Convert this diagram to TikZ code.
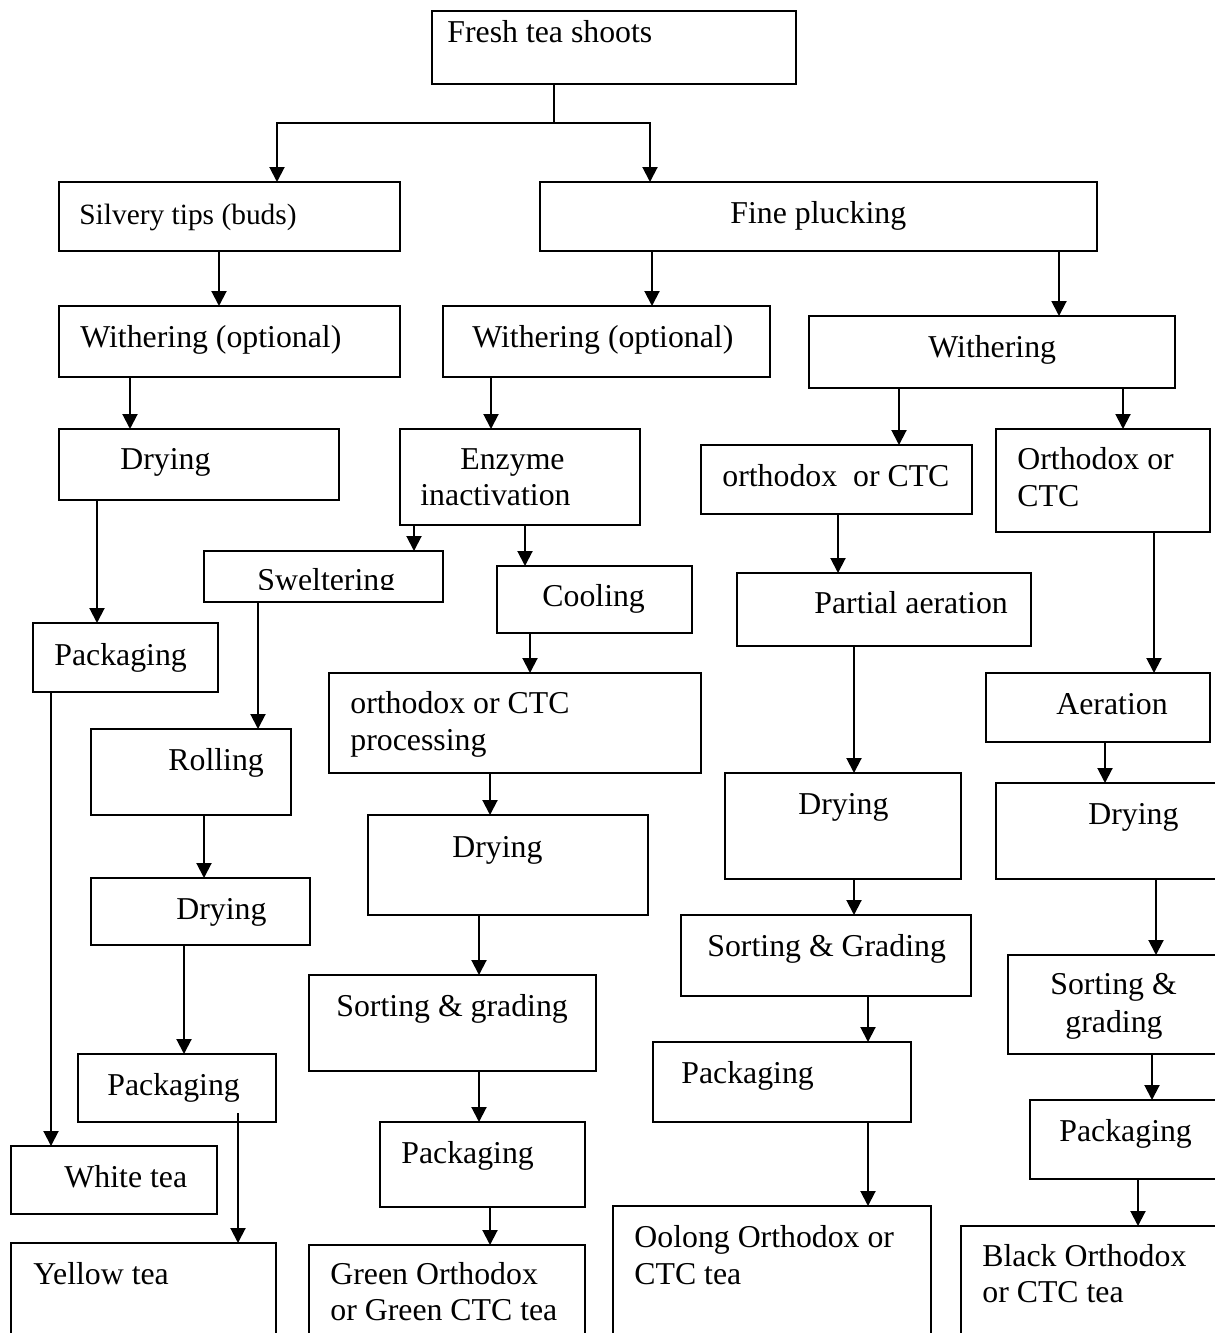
\documentclass[tikz,border=0pt]{standalone}
\usepackage{fontspec}
\setmainfont{Liberation Serif}
\usetikzlibrary{arrows.meta}
\newcommand\tbox[5]{\node[box, minimum width={(#4-#2)*0.5pt}, minimum height={(#5-#3)*0.5pt}, anchor=north west] (#1) at (#2,#3) {};}
\begin{document}
\begin{tikzpicture}[x=0.5pt,y=-0.5pt,
  box/.style={draw, line width=1pt, inner sep=0pt, outer sep=0pt},
  lbl/.style={anchor=base west, inner sep=0pt, font=\fontsize{15.9}{18}\selectfont},
  arr/.style={line width=1pt, -{Triangle[length=7.5pt,width=7.5pt]}},
  ln/.style={line width=1pt}]
\useasboundingbox (0,0) rectangle (1215,1333);
\clip (0,0) rectangle (1215,1333);
% boxes
\tbox{fresh}{432}{11}{796}{84}
\tbox{silv}{59}{182}{400}{251}
\tbox{fine}{540}{182}{1097}{251}
\tbox{withL}{59}{306}{400}{377}
\tbox{withM}{443}{306}{770}{377}
\tbox{withR}{809}{316}{1175}{388}
\tbox{dryL}{59}{429}{339}{500}
\tbox{enz}{400}{429}{640}{525}
\tbox{orc}{701}{445}{972}{514}
\tbox{orr}{996}{429}{1210}{532}
\tbox{swel}{204}{551}{443}{602}
\tbox{cool}{497}{566}{692}{633}
\tbox{parta}{737}{573}{1031}{646}
\tbox{packL}{33}{623}{218}{692}
\tbox{proc}{329}{673}{701}{773}
\tbox{aer}{986}{673}{1210}{742}
\tbox{roll}{91}{729}{291}{815}
\tbox{dryG}{368}{815}{648}{915}
\tbox{dryO}{725}{773}{961}{879}
\tbox{dryB}{996}{783}{1230}{879}
\tbox{dryY}{91}{878}{310}{945}
\tbox{sortG}{309}{975}{596}{1071}
\tbox{sortO}{681}{915}{971}{996}
\tbox{sortB}{1008}{955}{1230}{1054}
\tbox{packY}{78}{1054}{276}{1122}
\tbox{packG}{380}{1122}{585}{1207}
\tbox{packO}{653}{1042}{911}{1122}
\tbox{packB}{1030}{1100}{1230}{1179}
\tbox{white}{11}{1146}{217}{1214}
\tbox{yellow}{11}{1243}{276}{1360}
\tbox{green}{309}{1245}{585}{1360}
\tbox{oolong}{613}{1206}{931}{1360}
\tbox{black}{961}{1226}{1230}{1360}
% labels
\node[lbl] (tfresh) at (447,42) {Fresh tea shoots};
\node[lbl, font=\fontsize{14.7}{18}\selectfont] (tsilv) at (79,224) {Silvery tips (buds)};
\node[lbl] (tfine) at (730,223) {Fine plucking};
\node[lbl] (twithL) at (80,347) {Withering (optional)};
\node[lbl] (twithM) at (472,347) {Withering (optional)};
\node[lbl] (twithR) at (928,357) {Withering};
\node[lbl] (tdryL) at (120,469) {Drying};
\node[lbl] (tenz1) at (460,469) {Enzyme};
\node[lbl] (tenz2) at (420,505) {inactivation};
\node[lbl] (torc) at (722,486) {orthodox\ \ or CTC};
\node[lbl] (torr1) at (1017,469) {Orthodox or};
\node[lbl] (torr2) at (1017,506) {CTC};
\begin{scope}
\clip (204,551) rectangle (443,589);
\node[lbl] (tswel) at (257,590) {Sweltering};
\end{scope}
\node[lbl] (tcool) at (542,606) {Cooling};
\node[lbl] (tparta) at (814,613) {Partial aeration};
\node[lbl] (tpackL) at (54,665) {Packaging};
\node[lbl] (tproc1) at (350,713) {orthodox or CTC};
\node[lbl] (tproc2) at (350,750) {processing};
\node[lbl] (taer) at (1056,714) {Aeration};
\node[lbl] (troll) at (168,770) {Rolling};
\node[lbl] (tdryO) at (798,814) {Drying};
\node[lbl] (tdryB) at (1088,824) {Drying};
\node[lbl] (tdryG) at (452,857) {Drying};
\node[lbl] (tdryY) at (176,919) {Drying};
\node[lbl] (tsortO) at (707,956) {Sorting \& Grading};
\node[lbl] (tsortB1) at (1050,994) {Sorting \&};
\node[lbl] (tsortB2) at (1065,1032) {grading};
\node[lbl] (tsortG) at (336,1016) {Sorting \& grading};
\node[lbl] (tpackO) at (681,1083) {Packaging};
\node[lbl] (tpackY) at (107,1095) {Packaging};
\node[lbl] (tpackB) at (1059,1141) {Packaging};
\node[lbl] (tpackG) at (401,1163) {Packaging};
\node[lbl] (twhite) at (64,1187) {White tea};
\node[lbl] (toolong1) at (634,1247) {Oolong Orthodox or};
\node[lbl] (toolong2) at (634,1284) {CTC tea};
\node[lbl] (tblack1) at (982,1266) {Black Orthodox};
\node[lbl] (tblack2) at (982,1302) {or CTC tea};
\node[lbl] (tyellow) at (33,1284) {Yellow tea};
\node[lbl] (tgreen1) at (330,1284) {Green Orthodox};
\node[lbl] (tgreen2) at (330,1320) {or Green CTC tea};
% connectors
\coordinate (fk) at (554,123);
\draw[ln] (fresh.south -| fk) -- (fk);
\draw[arr] (fk) -| (silv.north -| 277,0);
\draw[arr] (fk) -| (fine.north -| 650,0);
\draw[arr] (silv.south -| 219,0) -- (withL.north -| 219,0);
\draw[arr] (fine.south -| 652,0) -- (withM.north -| 652,0);
\draw[arr] (fine.south -| 1059,0) -- (withR.north -| 1059,0);
\draw[arr] (withL.south -| 130,0) -- (dryL.north -| 130,0);
\draw[arr] (withM.south -| 491,0) -- (enz.north -| 491,0);
\draw[arr] (withR.south -| 899,0) -- (orc.north -| 899,0);
\draw[arr] (withR.south -| 1123,0) -- (orr.north -| 1123,0);
\draw[arr] (dryL.south -| 97,0) -- (packL.north -| 97,0);
\draw[arr] (enz.south -| 414,0) -- (swel.north -| 414,0);
\draw[arr] (enz.south -| 525,0) -- (cool.north -| 525,0);
\draw[arr] (orc.south -| 838,0) -- (parta.north -| 838,0);
\draw[arr] (orr.south -| 1154,0) -- (aer.north -| 1154,0);
\draw[arr] (swel.south -| 258,0) -- (roll.north -| 258,0);
\draw[arr] (cool.south -| 530,0) -- (proc.north -| 530,0);
\draw[arr] (parta.south -| 854,0) -- (dryO.north -| 854,0);
\draw[arr] (packL.south -| 51,0) -- (white.north -| 51,0);
\draw[arr] (proc.south -| 490,0) -- (dryG.north -| 490,0);
\draw[arr] (aer.south -| 1105,0) -- (dryB.north -| 1105,0);
\draw[arr] (roll.south -| 204,0) -- (dryY.north -| 204,0);
\draw[arr] (dryG.south -| 479,0) -- (sortG.north -| 479,0);
\draw[arr] (dryO.south -| 854,0) -- (sortO.north -| 854,0);
\draw[arr] (dryB.south -| 1156,0) -- (sortB.north -| 1156,0);
\draw[arr] (dryY.south -| 184,0) -- (packY.north -| 184,0);
\draw[arr] (sortG.south -| 479,0) -- (packG.north -| 479,0);
\draw[arr] (sortO.south -| 868,0) -- (packO.north -| 868,0);
\draw[arr] (sortB.south -| 1152,0) -- (packB.north -| 1152,0);
\coordinate (ystart) at (238,1113);
\draw[arr] (ystart) -- (yellow.north -| ystart);
\draw[arr] (packG.south -| 490,0) -- (green.north -| 490,0);
\draw[arr] (packO.south -| 868,0) -- (oolong.north -| 868,0);
\draw[arr] (packB.south -| 1138,0) -- (black.north -| 1138,0);
\end{tikzpicture}
\end{document}
